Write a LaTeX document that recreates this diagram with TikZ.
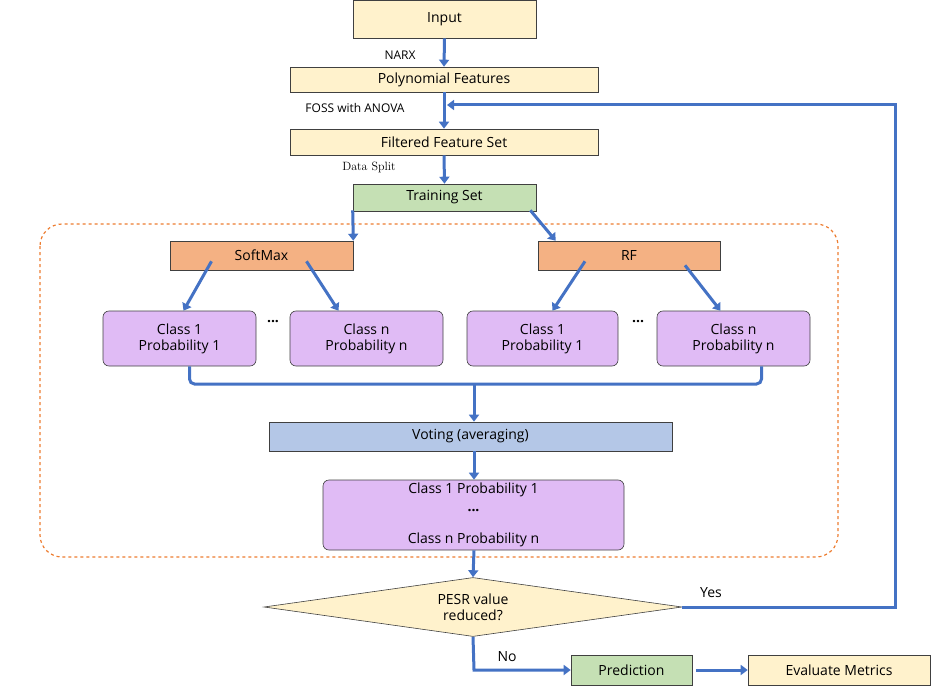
\documentclass[tikz,border=0pt]{standalone}
\usepackage{fontspec}
\setmainfont{Open Sans}
\usetikzlibrary{shapes.geometric,arrows.meta}
\definecolor{yel}{HTML}{FFF2CC}
\definecolor{grn}{HTML}{C5E0B4}
\definecolor{org}{HTML}{F4B183}
\definecolor{pur}{HTML}{E0BBF5}
\definecolor{blu}{HTML}{B4C7E7}
\definecolor{arr}{HTML}{4472C4}
\definecolor{dashc}{HTML}{ED7D31}
\begin{document}
\begin{tikzpicture}[x=1pt,y=-1pt,
  box/.style={draw=black!75,line width=0.6pt,inner sep=0pt,font=\fontsize{14}{15}\selectfont},
  rbox/.style={box,rounded corners=6pt,align=center,fill=pur,font=\fontsize{14}{16}\selectfont},
  ar/.style={draw=arr,line width=3pt,-{Triangle[length=7pt,width=10pt]}},
  ln/.style={draw=arr,line width=3pt},
  lab/.style={font=\fontsize{12}{12}\selectfont}]
\useasboundingbox (0,0) rectangle (950,695);
\node[box,fill=yel,minimum width=183,minimum height=38] (in) at (444.5,19) {Input};
\node[box,fill=yel,minimum width=308,minimum height=25] (pf) at (444,79.5) {Polynomial Features};
\node[box,fill=yel,minimum width=308,minimum height=26] (ff) at (444,142) {Filtered Feature Set};
\node[box,fill=grn,minimum width=183,minimum height=27] (ts) at (444.5,197.5) {Training Set};
\draw[draw=dashc,dashed,line width=1.2pt,rounded corners=22pt] (40,224) rectangle (838,557);
\node[box,fill=org,minimum width=183,minimum height=29] (sm) at (261.5,255.5) {SoftMax};
\node[box,fill=org,minimum width=182,minimum height=29] (rf) at (629,255.5) {RF};
\node[rbox,minimum width=153,minimum height=55] (c1) at (179.5,338.5) {Class 1\\Probability 1};
\node[rbox,minimum width=153,minimum height=55] (c2) at (366.5,338.5) {Class n\\Probability n};
\node[rbox,minimum width=151,minimum height=55] (c3) at (542.5,338.5) {Class 1\\Probability 1};
\node[rbox,minimum width=153,minimum height=55] (c4) at (733.5,338.5) {Class n\\Probability n};
\node[font=\bfseries\fontsize{14}{14}\selectfont] (d1) at (273,322) {...};
\node[font=\bfseries\fontsize{14}{14}\selectfont] (d2) at (638,322) {...};
\node[box,fill=blu,minimum width=403,minimum height=29] (vo) at (470.5,436.5) {Voting (averaging)};
\node[rbox,minimum width=301,minimum height=70] (bp) at (473.5,515) {};
\node[font=\fontsize{14}{14}\selectfont] (bt1) at (473.5,490) {Class 1 Probability 1};
\node[font=\bfseries\fontsize{14}{14}\selectfont] (bt2) at (473.5,511) {...};
\node[font=\fontsize{14}{14}\selectfont] (bt3) at (473.5,540) {Class n Probability n};
\node[diamond,aspect=7.1,draw=black!75,line width=0.6pt,fill=yel,minimum width=418,minimum height=59,inner sep=0pt,align=center,font=\fontsize{14}{16}\selectfont] (dm) at (473,607) {};
\node[align=center,font=\fontsize{14}{16}\selectfont] (dt) at (473,607) {PESR value\\reduced?};
\node[box,fill=grn,minimum width=121,minimum height=30] (pr) at (631.5,670) {Prediction};
\node[box,fill=yel,minimum width=182,minimum height=30] (em) at (839,670) {Evaluate Metrics};
\draw[ar] (in.south) -- (pf.north);
\node[lab] (l1) at (400,55) {NARX};
\draw[ar] (pf.south) -- (ff.north);
\node[lab] (l2) at (355,108) {FOSS with ANOVA};
\draw[ar] (ff.south) -- (ts.north);
\node[font=\fontfamily{lmr}\selectfont\fontsize{12}{12}\selectfont] (l3) at (369,167) {Data Split};
\draw[ar] ([yshift=1pt]ts.south west) -- (sm.north east);
\draw[ar] ([xshift=-6pt,yshift=1pt]ts.south east) -- ([xshift=18pt]rf.north west);
\draw[ar] ([xshift=-50pt,yshift=9pt]sm.south) -- ([xshift=4pt]c1.north);
\draw[ar] ([xshift=45pt,yshift=9pt]sm.south) -- ([xshift=-28pt]c2.north);
\draw[ar] ([xshift=-44pt,yshift=9pt]rf.south) -- ([xshift=10pt]c3.north);
\draw[ar] ([xshift=56pt,yshift=5pt]rf.south) -- ([xshift=-13pt]c4.north);
\coordinate (m) at (474,384);
\draw[ln,rounded corners=5pt] ([xshift=10pt]c1.south) |- (m) -| ([xshift=28pt]c4.south);
\draw[ar] (m) -- (vo.north -| m);
\draw[ar] (vo.south -| m) -- (bp.north -| m);
\draw[ar] (bp.south -| m) -- (dm.north);
\draw[ar] (dm.east) -- (895,607) -- (895,105) -- (447,105);
\node[font=\fontsize{14}{14}\selectfont] (y) at (711,593) {Yes};
\draw[ar] (dm.south) -- (474,670) -- (pr.west);
\node[font=\fontsize{14}{14}\selectfont] (n) at (507,657) {No};
\draw[ar] ([xshift=4pt]pr.east) -- (em.west);
\end{tikzpicture}
\end{document}
